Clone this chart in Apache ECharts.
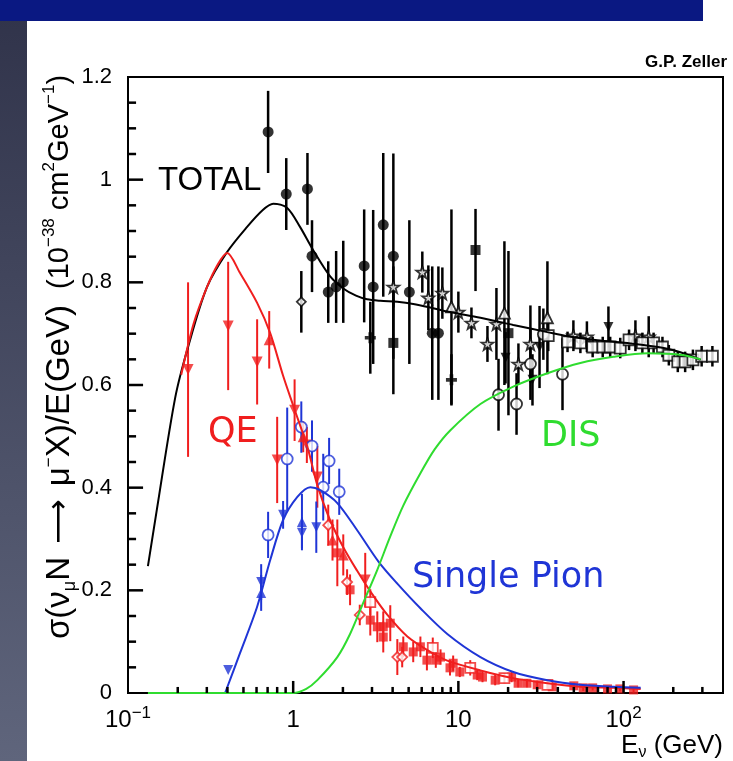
<!DOCTYPE html>
<html><head><meta charset="utf-8">
<script src="https://cdn.jsdelivr.net/npm/echarts@6/dist/echarts.min.js"></script>
<style>html,body{margin:0;padding:0;background:#fff}#c{width:733px;height:761px}</style>
</head><body><div id="c"></div><script>
// ---------- curves: [E (GeV), sigma/E] ----------
const totalCurve = [[0.132,0.247],[0.15,0.36],[0.193,0.575],[0.231,0.674],[0.301,0.791],[0.398,0.859],[0.526,0.908],[0.65,0.94],[0.757,0.953],[0.92,0.945],[1.10,0.908],[1.32,0.863],[1.67,0.812],[2.01,0.788],[2.4,0.774],[2.8,0.767],[3.37,0.764],[4.27,0.762],[5.33,0.758],[6.76,0.751],[8.57,0.743],[13.6,0.731],[21.5,0.717],[34.6,0.703],[45.8,0.695],[69.5,0.687],[110,0.681],[175,0.672],[240,0.660],[293,0.649]];
const qeCurve = [[0.21,0.62],[0.25,0.72],[0.301,0.791],[0.35,0.835],[0.398,0.857],[0.477,0.818],[0.605,0.760],[0.726,0.701],[0.869,0.618],[1.0,0.560],[1.22,0.479],[1.40,0.405],[1.67,0.337],[2.01,0.284],[2.44,0.238],[2.93,0.198],[3.72,0.152],[4.91,0.110],[6.76,0.080],[8.57,0.063],[13.6,0.044],[21.5,0.029],[34.6,0.019],[54.8,0.012],[86.9,0.010],[127,0.008]];
const pionCurve = [[0.387,0],[0.477,0.078],[0.605,0.168],[0.726,0.259],[0.869,0.337],[1.06,0.382],[1.27,0.401],[1.46,0.395],[1.85,0.370],[2.44,0.317],[3.3,0.255],[4.27,0.213],[5.89,0.165],[8.57,0.115],[13.6,0.070],[21.5,0.041],[34.6,0.025],[54.8,0.016],[86.9,0.012],[127,0.010]];
const disCurve = [[0.132,0],[1.0,0],[1.2,0.008],[1.40,0.025],[1.85,0.070],[2.21,0.115],[2.65,0.175],[3.23,0.240],[3.87,0.305],[4.64,0.365],[5.89,0.428],[7.2,0.475],[8.95,0.512],[13.6,0.563],[21.5,0.597],[34.6,0.623],[54.8,0.643],[86.9,0.655],[140,0.662],[221,0.659],[293,0.650]];

// ---------- data points: [E, sigma/E, error] ----------
const blkCircle = [[0.705,1.093,0.08],[0.908,0.972,0.07],[1.22,0.982,0.07],[1.30,0.851,0.07],[1.63,0.781,0.06],[1.82,0.791,0.07],[2.01,0.801,0.08],[2.69,0.832,0.11],[3.05,0.791,0.15],[3.51,0.912,0.14],[4.04,0.851,0.2],[5.05,0.781,0.14],[6.95,0.701,0.13],[7.57,0.701,0.13]];
const blkOpenCircle = [[17.5,0.581,0.07],[22.5,0.563,0.06],[27.3,0.641,0.07],[42.7,0.621,0.07],[32.7,0.699,0.05]];
const blkOpenDiamond = [[1.12,0.762,0.06]];
const blkSquare = [[4.04,0.682,0.1],[12.7,0.863,0.08],[20.1,0.701,0.16]];
const blkCross = [[2.93,0.692,0.07],[9.08,0.610,0.05]];
const blkStar = [[4.04,0.791,0.04],[6.05,0.820,0.04],[6.58,0.770,0.063],[8.0,0.779,0.05],[10,0.742,0.04],[12.0,0.721,0.03],[15.0,0.680,0.035],[17.0,0.719,0.07],[23.1,0.641,0.04],[27.3,0.680,0.075],[49.7,0.696,0.03],[60,0.694,0.03],[118,0.696,0.03],[142,0.694,0.04]];
const blkTriangle = [[9.08,0.752,0.19],[19.0,0.740,0.14],[34.6,0.731,0.11]];
const blkInvTri = [[19.3,0.653,0.05],[28.1,0.610,0.05],[31.0,0.674,0.08],[81,0.713,0.04]];
const blkOpenSquare = [[35,0.696,0.03],[45.8,0.684,0.02],[54.8,0.682,0.02],[65,0.674,0.02],[74.8,0.674,0.02],[83,0.674,0.02],[95.5,0.672,0.02],[108,0.688,0.02],[130,0.682,0.02],[152,0.682,0.02],[172,0.674,0.02],[188,0.658,0.02],[213,0.645,0.02],[236,0.645,0.02],[263,0.649,0.02],[297,0.656,0.02],[345,0.656,0.02]];

const redInvTri = [[0.231,0.63,0.17],[0.404,0.715,0.125],[0.605,0.645,0.083],[0.80,0.454,0.084],[1.02,0.551,0.06],[1.21,0.483,0.035],[1.40,0.421,0.06],[2.73,0.220,0.053]];
const redTriangle = [[0.716,0.688,0.056],[1.15,0.499,0.03],[1.73,0.298,0.04],[2.01,0.269,0.04]];
const redOpenDiamond = [[1.63,0.327,0.04],[2.12,0.216,0.025],[2.53,0.152,0.02],[4.27,0.070,0.035],[4.57,0.070,0.02]];
const redSquare = [[1.85,0.273,0.065],[2.21,0.201,0.03],[2.93,0.142,0.03],[3.23,0.129,0.03],[3.51,0.129,0.03],[3.87,0.136,0.035],[3.51,0.109,0.03],[4.64,0.090,0.02],[5.33,0.080,0.02],[5.89,0.090,0.02],[6.45,0.064,0.02],[7.3,0.064,0.015],[7.8,0.070,0.015],[8.9,0.049,0.015],[9.3,0.058,0.015],[10.2,0.041,0.01],[13,0.035,0.01],[14,0.031,0.01],[16.7,0.025,0.01],[21,0.031,0.01],[23,0.019,0.008],[26,0.019,0.008],[30,0.016,0.008],[37,0.012,0.006],[50,0.014,0.006],[57,0.010,0.006],[65,0.010,0.005],[80,0.008,0.005],[95,0.008,0.005],[115,0.006,0.005]];
const redOpenSquare = [[2.93,0.177,0.025],[7.0,0.088,0.02],[11.8,0.049,0.015],[19,0.029,0.01],[34.6,0.016,0.008]];

const blueOpenCircle = [[0.705,0.308,0.045],[0.92,0.456,0.10],[1.12,0.518,0.05],[1.30,0.481,0.05],[1.52,0.401,0.065],[1.65,0.452,0.045],[1.90,0.392,0.045]];
const blueTriangle = [[0.64,0.195,0.035],[1.13,0.333,0.055]];
const blueInvTri = [[0.404,0.045,0],[0.64,0.216,0.035],[0.869,0.347,0.027],[1.13,0.312,0.03],[1.38,0.323,0.05]];

// ---------- axis ticks ----------
const xMajorTicks = [1, 10, 100];
const xMinorTicks = [0.2,0.3,0.4,0.5,0.6,0.7,0.8,0.9,2,3,4,5,6,7,8,9,20,30,40,50,60,70,80,90,200,300];
const yMajorTicks = [0.2,0.4,0.6,0.8,1.0];
const yMinorTicks = [0.05,0.1,0.15,0.25,0.3,0.35,0.45,0.5,0.55,0.65,0.7,0.75,0.85,0.9,0.95,1.05,1.1,1.15];
const xTickLabels = {'-1':'{b|10}{s|\u22121}','0':'{b|1}','1':'{b|10}','2':'{b|10}{s|2}'};

const RED = '#f01e1e', BLUE = '#1f35d6', GREEN = '#2fdc2f', BLACK = '#000';
const STAR = 'path://M0,-10 L2.35,-3.24 9.51,-3.09 3.8,1.24 5.88,8.09 0,4 -5.88,8.09 -3.8,1.24 -9.51,-3.09 -2.35,-3.24Z';
const PLUS = 'path://M-2,-6 L2,-6 2,-2 6,-2 6,2 2,2 2,6 -2,6 -2,2 -6,2 -6,-2 -2,-2Z';

function errBars(data, color, w) {
  return { type: 'custom', data: data, silent: true, z: 2, clip: true,
    encode: { x: 0, y: 1 },
    renderItem: function (params, api) {
      const x = api.value(0), y = api.value(1), e = api.value(2);
      if (!e) return null;
      const p1 = api.coord([x, Math.max(0.0005, y - e)]), p2 = api.coord([x, y + e]);
      return { type: 'line', shape: { x1: p1[0], y1: p1[1], x2: p2[0], y2: p2[1] }, style: { stroke: color, lineWidth: w } };
    } };
}
function tickSeries(vals, len, dir) {
  return { type: 'custom', silent: true, z: 9, clip: false,
    data: vals.map(v => dir === 'x' ? [v, 0.05] : [0.5, v]), encode: { x: 0, y: 1 },
    renderItem: function (params, api) {
      if (dir === 'x') { const p1 = api.coord([api.value(0), 0.0001]);
        return { type: 'line', shape: { x1: p1[0], y1: p1[1], x2: p1[0], y2: p1[1] - len }, style: { stroke: '#000', lineWidth: 2.5 } }; }
      const p1 = api.coord([0.1001, api.value(1)]);
      return { type: 'line', shape: { x1: p1[0], y1: p1[1], x2: p1[0] + len, y2: p1[1] }, style: { stroke: '#000', lineWidth: 2.5 } };
    } };
}
function pts(data, color, symbol, size, open, rot) {
  return { type: 'scatter', data: data.map(d => [d[0], d[1]]), symbol: symbol, symbolSize: size, symbolRotate: rot || 0, z: 3, silent: true,
    itemStyle: open ? { color: '#fff', borderColor: color, borderWidth: 1.8 } : { color: color, borderWidth: 0 } };
}
function curve(data, color, z) {
  return { type: 'line', data: data, showSymbol: false, smooth: 0.3, z: z, silent: true, lineStyle: { color: color, width: 2 } };
}

const chart = echarts.init(document.getElementById('c'), null, { renderer: 'canvas' });
const series = [];
[[blkCircle,BLACK],[blkOpenCircle,BLACK],[blkOpenDiamond,BLACK],[blkSquare,BLACK],[blkCross,BLACK],[blkStar,BLACK],[blkTriangle,BLACK],[blkInvTri,BLACK],[blkOpenSquare,BLACK]].forEach(a => series.push(errBars(a[0], a[1], 2.5)));
[[redInvTri,RED],[redTriangle,RED],[redOpenDiamond,RED],[redSquare,RED],[redOpenSquare,RED]].forEach(a => series.push(errBars(a[0], a[1], 2)));
[[blueOpenCircle,BLUE],[blueTriangle,BLUE],[blueInvTri,BLUE]].forEach(a => series.push(errBars(a[0], a[1], 2)));
series.push(
  pts(blkCircle, BLACK, 'circle', 11, false),
  pts(blkOpenCircle, BLACK, 'circle', 11, true),
  pts(blkOpenDiamond, BLACK, 'diamond', 9, true),
  pts(blkSquare, BLACK, 'rect', 10, false),
  pts(blkCross, BLACK, PLUS, 11, false),
  pts(blkStar, BLACK, STAR, 12, true),
  pts(blkTriangle, BLACK, 'triangle', 11, true),
  pts(blkInvTri, BLACK, 'triangle', 10, false, 180),
  pts(blkOpenSquare, BLACK, 'rect', 11, true),
  pts(redInvTri, RED, 'triangle', 11, false, 180),
  pts(redTriangle, RED, 'triangle', 11, false),
  pts(redOpenDiamond, RED, 'diamond', 10, true),
  pts(redSquare, RED, 'rect', 9, false),
  pts(redOpenSquare, RED, 'rect', 10, true),
  pts(blueOpenCircle, BLUE, 'circle', 11, true),
  pts(blueTriangle, BLUE, 'triangle', 10, false),
  pts(blueInvTri, BLUE, 'triangle', 10, false, 180),
  curve(totalCurve, BLACK, 5),
  curve(qeCurve, RED, 6),
  curve(pionCurve, BLUE, 6),
  curve(disCurve, GREEN, 6),
  tickSeries(xMajorTicks, 12, 'x'),
  tickSeries(xMinorTicks, 6, 'x'),
  tickSeries(yMajorTicks, 15, 'y'),
  tickSeries(yMinorTicks, 8, 'y')
);

chart.setOption({
  animation: false,
  backgroundColor: '#fff',
  grid: { left: 128, right: 10, top: 77, bottom: 68, show: true, borderColor: '#000', borderWidth: 2 },
  xAxis: { type: 'log', logBase: 10, min: 0.1, max: 400,
    axisLine: { show: true, lineStyle: { color: '#000', width: 2 } }, axisTick: { show: false }, splitLine: { show: false },
    axisLabel: { margin: 12, color: '#000', fontFamily: 'Liberation Sans',
      formatter: function (v) { const k = Math.round(Math.log10(v)); return Math.abs(Math.log10(v) - k) < 1e-6 ? (xTickLabels[String(k)] || '') : ''; },
      rich: { b: { fontSize: 24, lineHeight: 30, color: '#000', fontFamily: 'Liberation Sans' }, s: { fontSize: 17, lineHeight: 18, verticalAlign: 'top', color: '#000', fontFamily: 'Liberation Sans' } } } },
  yAxis: { type: 'value', min: 0, max: 1.2, interval: 0.2,
    axisLine: { show: true, lineStyle: { color: '#000', width: 2 } }, splitLine: { show: false },
    axisTick: { show: false }, minorTick: { show: false },
    axisLabel: { margin: 16, color: '#000', fontSize: 22, fontFamily: 'Liberation Sans' } },
  series: series,
  graphic: [
    { type: 'rect', shape: { x: 0, y: 0, width: 27, height: 761 }, style: { fill: new echarts.graphic.LinearGradient(0, 0, 0, 1, [{ offset: 0, color: '#30334a' }, { offset: 1, color: '#5f657c' }]) }, z: 0 },
    { type: 'rect', shape: { x: 0, y: 0, width: 703, height: 21 }, style: { fill: '#0a1882' }, z: 1 },
    { type: 'text', x: 727, y: 62, style: { text: 'G.P. Zeller', fontSize: 17, fontWeight: 'bold', fontFamily: 'Liberation Sans', fill: '#000', align: 'right', verticalAlign: 'middle' } },
    { type: 'text', x: 723, y: 746, style: { text: 'E{sub|\u03bd} (GeV)', fontSize: 26, fontFamily: 'Liberation Sans', fill: '#000', align: 'right', verticalAlign: 'middle',
        rich: { sub: { fontSize: 16, verticalAlign: 'bottom', lineHeight: 30, fill: '#000', fontFamily: 'Liberation Sans' } } } },
    { type: 'text', x: 60, y: 357, rotation: Math.PI / 2, style: {
        text: '{a|\u03c3(\u03bd}{sub|\u03bc}{a|N }{arr|\u27f6}{a| \u03bc}{sup|\u2212}{a|X)/E(GeV)}  (10{sup|\u221238} cm{sup|2}GeV{sup|\u22121})',
        fontSize: 29, fontFamily: 'Liberation Sans', fill: '#000', align: 'center', verticalAlign: 'middle',
        rich: { a: { fontSize: 33, fill: '#000', fontFamily: 'Liberation Sans', lineHeight: 38 },
                sub: { fontSize: 18, verticalAlign: 'bottom', lineHeight: 38, fill: '#000', fontFamily: 'Liberation Sans' },
                sup: { fontSize: 17, verticalAlign: 'top', lineHeight: 38, fill: '#000', fontFamily: 'Liberation Sans' },
                arr: { fontSize: 31, fill: '#000', fontFamily: 'DejaVu Sans', lineHeight: 38, padding: [0, 4, 0, 4] } } } },
    { type: 'text', x: 158, y: 181, style: { text: 'TOTAL', fontSize: 33, fontFamily: 'Liberation Sans', fill: '#000', verticalAlign: 'middle' } },
    { type: 'text', x: 208, y: 433, style: { text: 'QE', fontSize: 35, fontFamily: 'DejaVu Sans', fill: RED, verticalAlign: 'middle' } },
    { type: 'text', x: 541, y: 437, style: { text: 'DIS', fontSize: 35, fontFamily: 'DejaVu Sans', fill: GREEN, verticalAlign: 'middle' } },
    { type: 'text', x: 412, y: 578, style: { text: 'Single Pion', fontSize: 35, fontFamily: 'DejaVu Sans', fill: BLUE, verticalAlign: 'middle' } }
  ]
});
</script></body></html>
